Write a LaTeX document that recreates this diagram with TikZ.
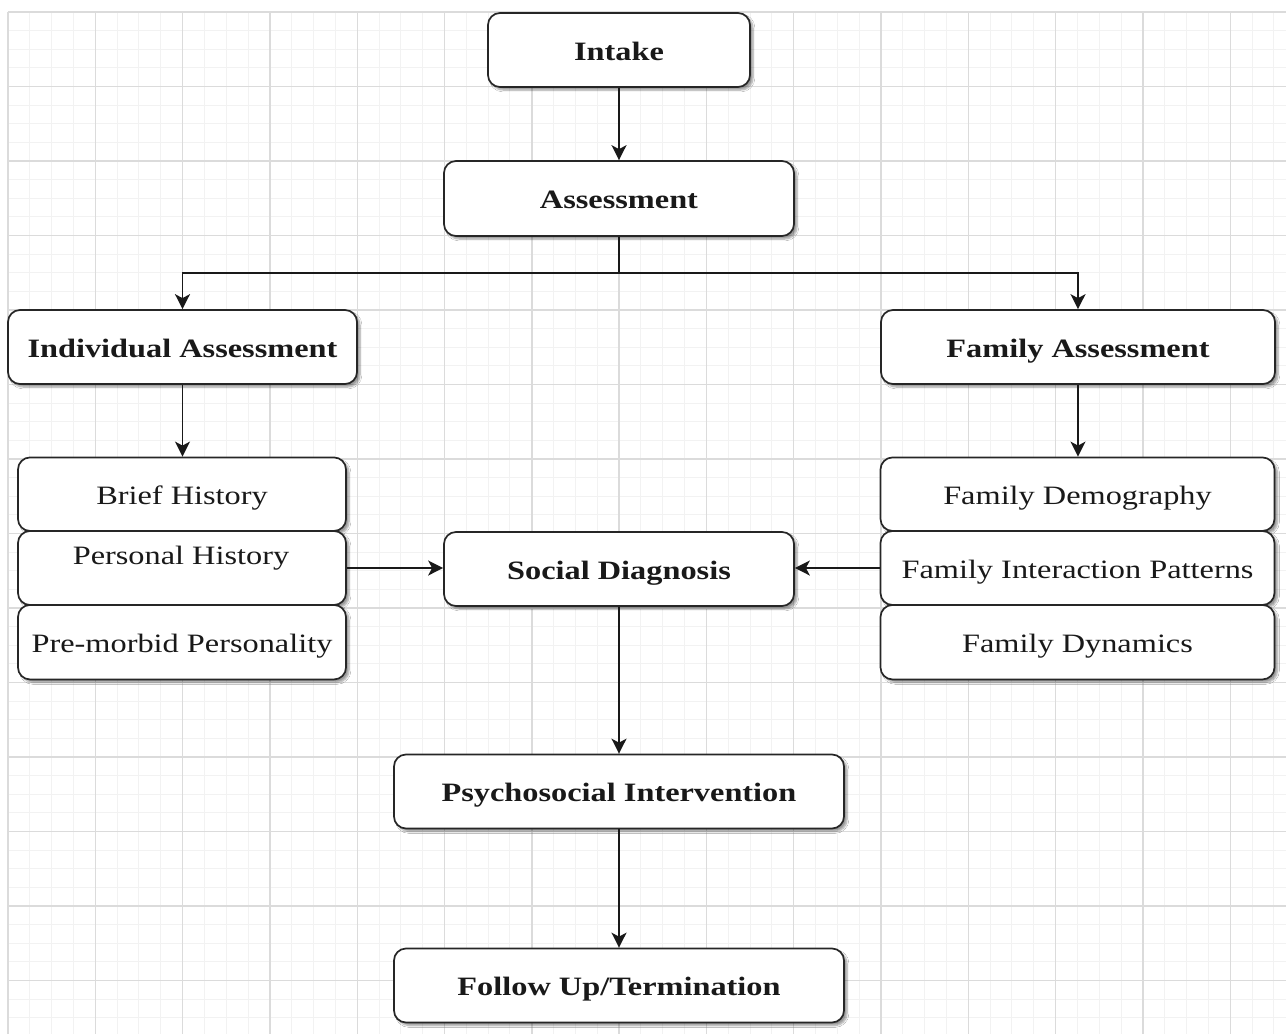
\documentclass[tikz,border=0pt]{standalone}
\usepackage{fontspec}
\setmainfont{Liberation Serif}
\usetikzlibrary{arrows.meta,shadows.blur,calc}
\newcommand{\wtxt}[1]{\scalebox{1.22}[1]{#1}}
\tikzset{
  box/.style={draw=black!85, line width=1.7pt, rounded corners=12pt, fill=white,
    inner sep=0pt, text=black!90, text height=20pt, text depth=0pt,
    blur shadow={shadow xshift=3pt, shadow yshift=-3pt, shadow blur steps=6, shadow opacity=40},
    font=\fontsize{26.5}{30}\selectfont},
  bbox/.style={box, font=\fontsize{26.5}{30}\selectfont\bfseries},
  txt/.style={inner sep=0pt, text=black!90, text height=20pt, text depth=0pt, font=\fontsize{26.5}{30}\selectfont},
  arr/.style={draw=black!90, line width=1.8pt, -{Stealth[length=15pt,width=15pt,inset=4pt]}},
  minorgrid/.style={draw=black!5, line width=1pt},
  majorgrid/.style={draw=black!14, line width=1.4pt}
}
\begin{document}
\begin{tikzpicture}[x=1pt,y=-1pt]
\useasboundingbox (0,0) rectangle (1286,1034);
\fill[white] (0,0) rectangle (1286,1034);
% grid
\foreach \i in {0,...,59} {
  \draw[minorgrid] ({8+\i*21.825},12) -- ({8+\i*21.825},1034);
}
\foreach \i in {0,...,55} {
  \draw[minorgrid] (8,{12+\i*18.625}) -- (1286,{12+\i*18.625});
}
\foreach \i in {0,...,14} {
  \draw[majorgrid] ({8+\i*87.3},12) -- ({8+\i*87.3},1034);
}
\foreach \i in {0,...,13} {
  \draw[majorgrid] (8,{12+\i*74.5}) -- (1286,{12+\i*74.5});
}
% main boxes
\node[bbox, minimum width=262pt, minimum height=74pt] (intake) at (619,50) {\wtxt{Intake}};
\node[bbox, minimum width=350pt, minimum height=75pt] (assess) at (619,198.5) {\wtxt{Assessment}};
\node[bbox, minimum width=349pt, minimum height=74pt] (indiv) at (182.5,347) {\wtxt{Individual Assessment}};
\node[bbox, minimum width=394pt, minimum height=74pt] (fam) at (1078,347) {\wtxt{Family Assessment}};
% individual sub-boxes
\node[box, minimum width=328pt, minimum height=73.5pt] (brief) at (182,494.2) {\wtxt{Brief History}};
\node[box, minimum width=328pt, minimum height=74pt] (pers) at (182,568) {};
\node[txt] (perstxt) at (181,554) {\wtxt{Personal History}};
\node[box, minimum width=328pt, minimum height=74.5pt] (premorb) at (182,642.2) {\wtxt{Pre-morbid Personality}};
% family sub-boxes
\node[box, minimum width=394pt, minimum height=73.5pt] (demog) at (1077.5,494.2) {\wtxt{Family Demography}};
\node[box, minimum width=394pt, minimum height=74pt] (inter) at (1077.5,568) {\wtxt{Family Interaction Patterns}};
\node[box, minimum width=394pt, minimum height=74.5pt] (dyn) at (1077.5,642.2) {\wtxt{Family Dynamics}};
% center column
\node[bbox, minimum width=350pt, minimum height=74pt] (social) at (619,569) {\wtxt{Social Diagnosis}};
\node[bbox, minimum width=450pt, minimum height=74pt] (psy) at (619,791.5) {\wtxt{Psychosocial Intervention}};
\node[bbox, minimum width=450pt, minimum height=74pt] (follow) at (619,985.5) {\wtxt{Follow Up/Termination}};
% connectors
\draw[arr] (intake.south) -- (assess.north);
\coordinate (split) at ($(assess.south)+(0,36)$);
\draw[arr] (assess.south) -- (split) -| (indiv.north);
\draw[arr] (split) -| (fam.north);
\draw[arr] (indiv.south) -- (indiv.south |- brief.north);
\draw[arr] (fam.south) -- (fam.south |- demog.north);
\draw[arr] (pers.east) -- (pers.east -| social.west);
\draw[arr] (inter.west) -- (inter.west -| social.east);
\draw[arr] (social.south) -- (psy.north);
\draw[arr] (psy.south) -- (follow.north);
\end{tikzpicture}
\end{document}
